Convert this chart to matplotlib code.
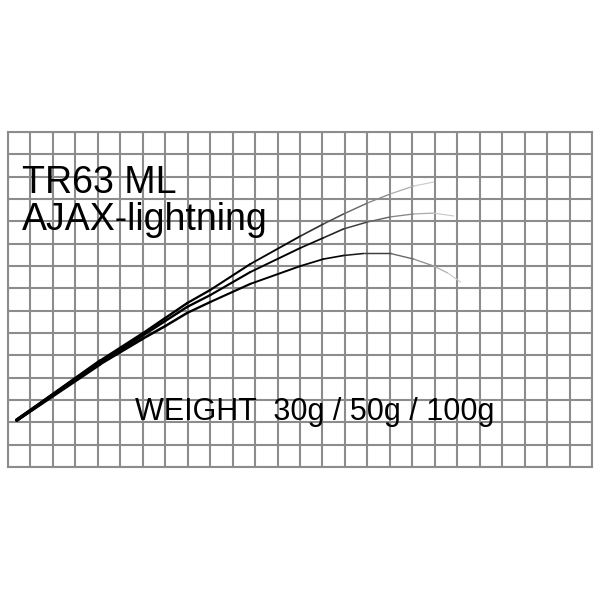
import numpy as np
import matplotlib
matplotlib.use("Agg")
from matplotlib import pyplot as plt
from matplotlib.collections import LineCollection

plt.rcParams['font.family'] = ['Liberation Sans', 'DejaVu Sans']

# rod bend curves, in grid units (26 x 15 squares)
x_30g = [0.39, 4.10, 5.97, 7.00, 7.98, 9.01, 10.79, 13.02, 14.04, 14.94, 16.0, 17.03, 18.06, 18.95]
y_30g = [2.10, 4.75, 5.96, 6.67, 7.34, 7.93, 9.09, 10.34, 10.88, 11.33, 11.82, 12.23, 12.58, 12.76]

x_50g = [0.39, 4.10, 5.97, 7.00, 7.98, 9.01, 10.79, 13.02, 14.04, 14.94, 16.0, 17.03, 18.06, 18.95, 19.84]
y_50g = [2.10, 4.70, 5.87, 6.54, 7.17, 7.70, 8.73, 9.81, 10.26, 10.66, 10.97, 11.20, 11.33, 11.37, 11.24]

x_100g = [0.39, 4.10, 5.97, 7.00, 7.98, 9.01, 10.79, 13.02, 14.04, 14.94, 15.83, 17.03, 18.06, 18.95, 19.57, 20.15]
y_100g = [2.10, 4.61, 5.73, 6.31, 6.90, 7.39, 8.20, 9.00, 9.31, 9.47, 9.56, 9.56, 9.31, 9.00, 8.69, 8.28]

n_cols, n_rows = 26, 15

fig = plt.figure(figsize=(6, 6), dpi=100)
ax = fig.add_axes([8 / 600, 133 / 600, 584 / 600, 335 / 600])
ax.set_xlim(0, n_cols)
ax.set_ylim(0, n_rows)
ax.set_xticks(range(n_cols + 1))
ax.set_yticks(range(n_rows + 1))
ax.tick_params(length=0, labelbottom=False, labelleft=False)
ax.grid(True, color='#8c8c8c', linewidth=1.5)
for s in ax.spines.values():
    s.set_color('#8c8c8c')
    s.set_linewidth(1.5)


def rod(xs, ys, fade_start):
    pts = np.column_stack([xs, ys])
    segs = np.stack([pts[:-1], pts[1:]], axis=1)
    # fade and thin out toward the tip
    d = np.r_[0, np.cumsum(np.hypot(np.diff(xs), np.diff(ys)))]
    t = (d[:-1] + d[1:]) / 2 / d[-1]
    fade = np.clip((t - fade_start) / (1 - fade_start), 0, 1)
    grey = 0.85 * fade ** 1.2
    colors = [(g, g, g) for g in grey]
    widths = 2.8 - 2.0 * t ** 0.7
    lc = LineCollection(segs, colors=colors, linewidths=widths,
                        capstyle='round', joinstyle='round')
    ax.add_collection(lc)


rod(x_30g, y_30g, 0.62)
rod(x_50g, y_50g, 0.68)
rod(x_100g, y_100g, 0.72)

ax.text(0.62, 12.27, "TR63 ML", fontsize=27, va='baseline', ha='left', color='black')
ax.text(0.62, 10.61, "AJAX-lightning", fontsize=27, va='baseline', ha='left', color='black')
ax.text(5.66, 2.10, "WEIGHT  30g / 50g / 100g", fontsize=22, va='baseline', ha='left', color='black')

fig.savefig("out.png", dpi=100, facecolor='white')
